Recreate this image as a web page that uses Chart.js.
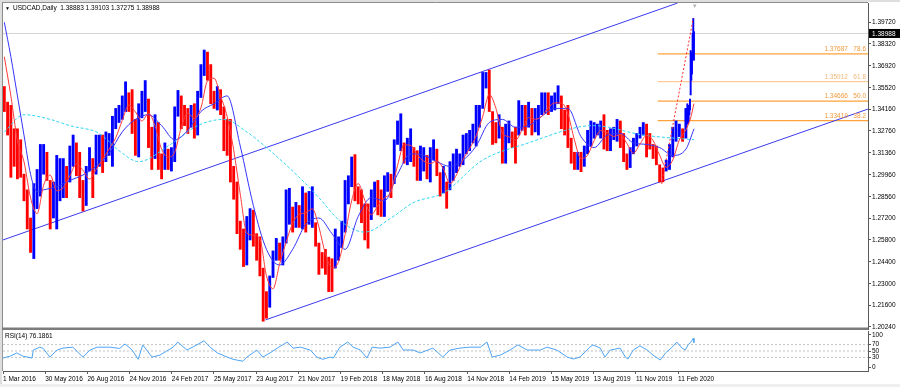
<!DOCTYPE html>
<html>
<head>
<meta charset="utf-8">
<script src="https://cdn.jsdelivr.net/npm/chart.js@4.4.1/dist/chart.umd.min.js"></script>
<style>
  html, body { margin: 0; padding: 0; background: #fff; }
  #wrap { position: relative; width: 900px; height: 387px; overflow: hidden; background: #fff; }
  canvas { position: absolute; left: 0; }
  #mainChart { top: 0; }
  #rsiChart { top: 330px; }
</style>
</head>
<body>
<div id="wrap">
  <canvas id="mainChart" width="900" height="330"></canvas>
  <canvas id="rsiChart" width="900" height="57"></canvas>
</div>
<script>
const FONT = "'Liberation Sans', Arial, sans-serif";
const BLUE = '#0000ff';
const RED = '#ff0000';

// time axis: one unit = one daily bar, a date label every 64 bars
const dateLabels = ['1 Mar 2016', '30 May 2016', '26 Aug 2016', '24 Nov 2016', '24 Feb 2017', '25 May 2017',
  '23 Aug 2017', '21 Nov 2017', '19 Feb 2018', '18 May 2018', '16 Aug 2018', '14 Nov 2018', '14 Feb 2019',
  '15 May 2019', '13 Aug 2019', '11 Nov 2019', '11 Feb 2020'];
const BARS_PER_LABEL = 64;
const BARS_PER_WEEK = 4.97; // holidays are skipped by the feed
const X_MAX = 1312;

const priceTicks = [1.20240, 1.21600, 1.23000, 1.24400, 1.25800, 1.27200, 1.28560, 1.29960, 1.31360,
  1.32760, 1.34160, 1.35520, 1.36920, 1.38320, 1.39720];
const rsiTicks = [0, 30, 50, 70, 100];
const rsiLevels = [70, 50, 30];

// weekly high / low (week 0 = first week of Mar 2016)
const weekHigh = [
  1.3560, 1.3460, 1.3440, 1.3290, 1.3290, 1.3220, 1.3000, 1.2900, 1.2720, 1.2940,
  1.3030, 1.3190, 1.3190, 1.3140, 1.2960, 1.2950, 1.3120, 1.3100, 1.3100, 1.3050,
  1.3180, 1.3250, 1.3200, 1.3140, 1.2960, 1.3050, 1.3170, 1.3100, 1.3250, 1.3250,
  1.3250, 1.3270, 1.3260, 1.3370, 1.3420, 1.3440, 1.3500, 1.3590, 1.3520, 1.3540,
  1.3350, 1.3450, 1.3530, 1.3598, 1.3480, 1.3300, 1.3380, 1.3330, 1.3130, 1.3200,
  1.3160, 1.3170, 1.3430, 1.3535, 1.3500, 1.3440, 1.3420, 1.3440, 1.3450, 1.3530,
  1.3700, 1.3793, 1.3780, 1.3700, 1.3530, 1.3560, 1.3540, 1.3430, 1.3350, 1.3350,
  1.3050, 1.2950, 1.2700, 1.2650, 1.2730, 1.2780, 1.2770, 1.2620, 1.2600, 1.2400,
  1.2250, 1.2350, 1.2510, 1.2590, 1.2560, 1.2600, 1.2900, 1.2910, 1.2790, 1.2820,
  1.2800, 1.2920, 1.2880, 1.2890, 1.2920, 1.2690, 1.2560, 1.2500, 1.2520, 1.2470,
  1.2460, 1.2650, 1.2600, 1.2700, 1.2960, 1.2990, 1.3110, 1.3125, 1.2920, 1.2900,
  1.2810, 1.2810, 1.2900, 1.2950, 1.2960, 1.2900, 1.2990, 1.3010, 1.3000, 1.3220,
  1.3340, 1.3386, 1.3200, 1.3230, 1.3290, 1.3170, 1.3150, 1.3180, 1.3170, 1.3120,
  1.3170, 1.3220, 1.3160, 1.3010, 1.3050, 1.2950, 1.3080, 1.3130, 1.3160, 1.3130,
  1.3250, 1.3260, 1.3280, 1.3320, 1.3440, 1.3440, 1.3650, 1.3650, 1.3665, 1.3400,
  1.3330, 1.3380, 1.3300, 1.3320, 1.3340, 1.3270, 1.3300, 1.3470, 1.3440, 1.3440,
  1.3460, 1.3420, 1.3420, 1.3440, 1.3520, 1.3520, 1.3520, 1.3500, 1.3520, 1.3565,
  1.3500, 1.3410, 1.3440, 1.3230, 1.3140, 1.3140, 1.3140, 1.3180, 1.3280, 1.3340,
  1.3330, 1.3320, 1.3340, 1.3380, 1.3280, 1.3290, 1.3300, 1.3350, 1.3340, 1.3260,
  1.3130, 1.3170, 1.3230, 1.3260, 1.3300, 1.3330, 1.3320, 1.3260, 1.3190, 1.3180,
  1.3060, 1.3040, 1.3090, 1.3190, 1.3300, 1.3340, 1.3320, 1.3290, 1.3420
];
const weekLow = [
  1.3400, 1.3250, 1.2980, 1.3050, 1.2970, 1.2980, 1.2830, 1.2650, 1.2500, 1.2461,
  1.2780, 1.2860, 1.3000, 1.2960, 1.2650, 1.2720, 1.2650, 1.2830, 1.2850, 1.2850,
  1.2950, 1.3050, 1.2990, 1.2850, 1.2765, 1.2800, 1.3020, 1.2850, 1.3000, 1.3050,
  1.3010, 1.3080, 1.3120, 1.3050, 1.3290, 1.3330, 1.3350, 1.3400, 1.3400, 1.3260,
  1.3120, 1.3110, 1.3360, 1.3400, 1.3170, 1.3030, 1.3100, 1.3030, 1.2970, 1.3030,
  1.3030, 1.3020, 1.3080, 1.3370, 1.3290, 1.3310, 1.3260, 1.3300, 1.3230, 1.3250,
  1.3490, 1.3630, 1.3600, 1.3450, 1.3420, 1.3410, 1.3380, 1.3150, 1.3120, 1.2950,
  1.2840, 1.2620, 1.2520, 1.2410, 1.2420, 1.2580, 1.2540, 1.2450, 1.2350, 1.2061,
  1.2080, 1.2150, 1.2340, 1.2450, 1.2450, 1.2420, 1.2560, 1.2680, 1.2630, 1.2660,
  1.2660, 1.2650, 1.2630, 1.2680, 1.2660, 1.2540, 1.2360, 1.2400, 1.2360, 1.2250,
  1.2250, 1.2400, 1.2450, 1.2530, 1.2630, 1.2810, 1.2920, 1.2830, 1.2810, 1.2690,
  1.2580, 1.2527, 1.2710, 1.2790, 1.2740, 1.2730, 1.2730, 1.2890, 1.2850, 1.2940,
  1.3190, 1.3150, 1.3070, 1.3060, 1.3080, 1.3050, 1.2960, 1.2960, 1.3020, 1.2970,
  1.2950, 1.3090, 1.2990, 1.2860, 1.2880, 1.2782, 1.2900, 1.2960, 1.3010, 1.3050,
  1.3060, 1.3130, 1.3150, 1.3200, 1.3180, 1.3300, 1.3420, 1.3550, 1.3400, 1.3190,
  1.3200, 1.3230, 1.3070, 1.3070, 1.3200, 1.3170, 1.3070, 1.3250, 1.3280, 1.3250,
  1.3300, 1.3250, 1.3270, 1.3250, 1.3380, 1.3390, 1.3380, 1.3400, 1.3410, 1.3450,
  1.3290, 1.3250, 1.3170, 1.3070, 1.3030, 1.3030, 1.3016, 1.3050, 1.3130, 1.3180,
  1.3230, 1.3250, 1.3230, 1.3160, 1.3150, 1.3150, 1.3220, 1.3210, 1.3170, 1.3080,
  1.3030, 1.3042, 1.3130, 1.3180, 1.3230, 1.3250, 1.3110, 1.3160, 1.3100, 1.3060,
  1.2950, 1.2951, 1.3020, 1.3030, 1.3110, 1.3210, 1.3240, 1.3210, 1.3230
];

// last daily bars, 2 Mar .. 16 Mar 2020
const FIRST_DAY_BAR = 1038;
const dayHigh = [1.3450, 1.3420, 1.3440, 1.3440, 1.3480, 1.3790, 1.3740, 1.3780, 1.3900, 1.3995, 1.39103];
const dayLow = [1.3330, 1.3320, 1.3340, 1.3380, 1.3410, 1.3506, 1.3600, 1.3640, 1.3740, 1.3810, 1.37275];
const dayClose = [1.3380, 1.3390, 1.3410, 1.3425, 1.3440, 1.3700, 1.3700, 1.3745, 1.3880, 1.3890, 1.38988];
const lastOHLC = [1.38883, 1.39103, 1.37275, 1.38988];

// moving averages
const redMA = [ // one value every 2 weeks
  1.375, 1.350, 1.3216, 1.308, 1.285, 1.2748, 1.293, 1.2994, 1.2894, 1.2915,
  1.2989, 1.3065, 1.3025, 1.2969, 1.303, 1.3095, 1.3161, 1.3233, 1.3344, 1.3441,
  1.3398, 1.334, 1.3388, 1.3308, 1.3159, 1.311, 1.314, 1.3299, 1.339, 1.3356,
  1.3424, 1.3596, 1.3613, 1.3499, 1.3368, 1.3155, 1.2873, 1.2625, 1.261, 1.2586,
  1.2351, 1.2268, 1.2425, 1.2566, 1.2686, 1.2744, 1.2753, 1.2779, 1.2663, 1.2491,
  1.2401, 1.2441, 1.2615, 1.2831, 1.294, 1.2834, 1.2741, 1.2799, 1.2849, 1.2888,
  1.3055, 1.3188, 1.3184, 1.3124, 1.3083, 1.3068, 1.3084, 1.3033, 1.2939, 1.2996,
  1.3094, 1.3164, 1.3245, 1.3369, 1.3509, 1.3423, 1.3263, 1.3239, 1.3218, 1.3281,
  1.3361, 1.3351, 1.3369, 1.3425, 1.3455, 1.3455, 1.3385, 1.3218, 1.31, 1.3121,
  1.3215, 1.3278, 1.3264, 1.3241, 1.3254, 1.3196, 1.3134, 1.3193, 1.3248, 1.3215,
  1.312, 1.3044, 1.3091, 1.3218, 1.3283
];
const redTailBar = [1043, 1048];
const redTailVal = [1.336, 1.345];
const blueWeek = [0, 2, 4, 6, 8, 10, 12, 16, 20, 24, 28, 32, 36, 40, 44, 48, 52, 56, 60, 64, 68, 72, 76, 80,
  84, 88, 92, 96, 100, 104, 108, 112, 116, 120, 124, 128, 132, 136, 140, 144, 148, 152, 156, 160, 164, 168,
  172, 176, 180, 184, 188, 192, 196, 200, 204, 208, 210.5];
const blueVal = [1.397, 1.375, 1.350, 1.325, 1.300, 1.289, 1.290, 1.292, 1.296, 1.2995, 1.305, 1.3135, 1.327,
  1.335, 1.338, 1.331, 1.322, 1.328, 1.340, 1.345, 1.350, 1.318, 1.280, 1.252, 1.242, 1.252, 1.268, 1.272,
  1.262, 1.252, 1.273, 1.285, 1.283, 1.300, 1.313, 1.312, 1.308, 1.305, 1.309, 1.318, 1.333, 1.335, 1.330,
  1.331, 1.337, 1.342, 1.342, 1.324, 1.317, 1.325, 1.326, 1.320, 1.319, 1.317, 1.312, 1.316, 1.329];
const cyanWeek = [0, 6, 14, 20, 29, 35, 41, 50, 59, 67, 74, 80, 90, 96, 102, 110, 118, 125, 134, 146, 160,
  175, 180, 195, 210.5];
const cyanVal = [1.327, 1.338, 1.335, 1.331, 1.326, 1.315, 1.308, 1.318, 1.331, 1.335, 1.327, 1.317, 1.298,
  1.285, 1.271, 1.263, 1.272, 1.282, 1.288, 1.309, 1.320, 1.330, 1.331, 1.325, 1.322];

// drawn objects
const upperChanBar = [0, 1023];
const upperChanPrice = [1.2580, 1.4093];
const lowerChanBar = [398, 1312];
const lowerChanPrice = [1.2069, 1.3416];
const swingBar = [999, 1047];
const swingPrice = [1.2938, 1.3995];
const FIB_FROM_BAR = 993;
const fibPrice = [1.37687, 1.35912, 1.34666, 1.33419];
const fibLevel = ['78.6', '61.8', '50.0', '38.2'];
const fibColor = ['#ffa23c', '#ffcc99', '#ffa23c', '#ffa23c'];

// RSI(14)
const rsiBar = [0, 11, 21, 30, 44, 46, 56, 61, 71, 82, 91, 106, 121, 132, 143, 162, 177, 185, 196, 205,
  212, 226, 238, 258, 265, 279, 294, 305, 314, 325, 340, 349, 364, 370, 385, 394, 405, 416, 431, 440,
  451, 466, 476, 485, 496, 501, 511, 523, 531, 542, 552, 560, 572, 587, 599, 607, 622, 633, 652, 667,
  678, 693, 708, 724, 734, 742, 754, 769, 781, 795, 815, 825, 840, 856, 865, 875, 890, 895, 906, 913,
  921, 936, 944, 948, 956, 966, 977, 986, 997, 1005, 1015, 1022, 1030, 1035, 1039, 1044, 1047, 1048];
const rsiVal = [28, 34, 44, 34, 28, 53, 62, 58, 31, 53, 59, 62, 31, 53, 62, 62, 58, 72, 53, 24,
  69, 31, 37, 62, 78, 53, 69, 82, 62, 44, 31, 24, 18, 31, 53, 31, 44, 59, 78, 59,
  62, 53, 31, 24, 31, 28, 62, 78, 62, 53, 28, 62, 59, 62, 78, 53, 53, 44, 59, 31,
  53, 59, 62, 62, 78, 31, 37, 53, 69, 53, 53, 62, 53, 31, 25, 31, 62, 69, 59, 31,
  53, 59, 31, 25, 53, 66, 53, 37, 22, 44, 62, 78, 59, 53, 69, 80, 90, 76];
const rsiLast = '76.1861';

// ---- build datasets
const weekPos = w => w * BARS_PER_WEEK + 2;
const pts = (xs, ys) => xs.map((x, i) => ({ x: x, y: ys[i] }));

const weekMid = weekHigh.map((h, i) => (h + weekLow[i]) / 2);
const weekBars = weekHigh.map((h, i) => ({ x: weekPos(i), y: [weekLow[i], h] }));
const weekColors = weekMid.map((m, i) => (i > 0 && m >= weekMid[i - 1]) ? BLUE : RED);
const dayBars = dayHigh.map((h, i) => ({ x: FIRST_DAY_BAR + i, y: [dayLow[i], h] }));
const dayColors = dayClose.map((c, i) => (i === 0 || c >= dayClose[i - 1]) ? BLUE : RED);

const redPts = redMA.map((v, i) => ({ x: weekPos(i * 2), y: v })).concat(pts(redTailBar, redTailVal));
const bluePts = pts(blueWeek.map(weekPos), blueVal);
const cyanPts = pts(cyanWeek.map(weekPos), cyanVal);

function lineSet(data, color, extra) {
  return Object.assign({ type: 'line', data: data, borderColor: color, borderWidth: 1,
    pointRadius: 0, fill: false, tension: 0 }, extra || {});
}

const mainSets = [
  lineSet(pts(swingBar, swingPrice), '#ff2a2a', { borderDash: [2, 2], order: 1 }),
  lineSet(redPts, '#ff3a3a', { cubicInterpolationMode: 'monotone', order: 2 }),
  lineSet(bluePts, '#3535ff', { cubicInterpolationMode: 'monotone', order: 3 }),
  lineSet(cyanPts, '#2ed6f2', { cubicInterpolationMode: 'monotone', borderDash: [3, 2], order: 4 }),
  { type: 'bar', data: dayBars, backgroundColor: dayColors, barThickness: 1.3, grouped: false, order: 5 },
  { type: 'bar', data: weekBars, backgroundColor: weekColors, barThickness: 2.2, grouped: false, order: 6 },
  lineSet(pts(upperChanBar, upperChanPrice), '#3a3aee', { order: 7 }),
  lineSet(pts(lowerChanBar, lowerChanPrice), '#3a3aee', { order: 7 })
];
fibPrice.forEach((p, i) => {
  mainSets.push(lineSet([{ x: FIB_FROM_BAR, y: p }, { x: X_MAX, y: p }], fibColor[i], { borderWidth: 1.3, order: 8 }));
});
mainSets.push(lineSet([{ x: 0, y: lastOHLC[3] }, { x: X_MAX, y: lastOHLC[3] }], '#d4d4d4', { order: 9 }));

const mainDecor = {
  id: 'mainDecor',
  beforeDraw(chart) {
    const c = chart.ctx;
    c.save();
    c.fillStyle = '#ffffff';
    c.fillRect(0, 0, chart.width, chart.height);
    c.restore();
  },
  afterDatasetsDraw(chart) {
    const c = chart.ctx, ys = chart.scales.y;
    c.save();
    c.font = '6.5px ' + FONT;
    c.textAlign = 'right';
    c.textBaseline = 'bottom';
    fibPrice.forEach((p, i) => {
      c.fillStyle = i === 1 ? '#f5b77a' : '#f39a3c';
      c.fillText(p.toFixed(5) + '   ' + fibLevel[i], chart.chartArea.right - 2, ys.getPixelForValue(p) - 1.5);
    });
    c.restore();
  },
  afterDraw(chart) {
    const c = chart.ctx, a = chart.chartArea, xs = chart.scales.x, ys = chart.scales.y;
    c.save();
    // window frame
    c.fillStyle = '#dedede';
    c.fillRect(0, 0, chart.width, 2);
    c.fillRect(0, 0, 2, chart.height);
    c.strokeStyle = '#8c8c8c';
    c.lineWidth = 1;
    c.beginPath();
    c.moveTo(a.left, 2.5); c.lineTo(a.right, 2.5);
    c.moveTo(2.5, 2); c.lineTo(2.5, a.bottom);
    c.stroke();
    c.fillStyle = '#7c7c7c';
    c.fillRect(2, a.bottom - 1.5, a.right - 2, 2.5);
    // title
    c.fillStyle = '#000';
    c.textBaseline = 'middle';
    c.font = '5px ' + FONT;
    c.fillText('\u25BC', 5, 8.5);
    c.font = '6.5px ' + FONT;
    c.fillText('USDCAD,Daily  ' + lastOHLC.map(v => v.toFixed(5)).join(' '), 13, 8.5);
    // chart shift marker
    c.fillStyle = '#b4b4b4';
    c.font = '6px ' + FONT;
    c.textAlign = 'center';
    c.fillText('\u25BC', xs.getPixelForValue(1049), 6);
    // current price tag
    const py = ys.getPixelForValue(lastOHLC[3]);
    c.fillStyle = '#000';
    c.fillRect(a.right + 1, py - 4.5, chart.width - a.right - 1, 9);
    c.fillStyle = '#fff';
    c.textAlign = 'left';
    c.font = '6.5px ' + FONT;
    c.fillText(lastOHLC[3].toFixed(5), a.right + 4, py + 0.5);
    c.restore();
  }
};

new Chart(document.getElementById('mainChart'), {
  type: 'bar',
  data: { datasets: mainSets },
  options: {
    responsive: false,
    animation: false,
    events: [],
    layout: { padding: { left: 3, top: 3, right: 0, bottom: 1 } },
    plugins: { legend: { display: false }, tooltip: { enabled: false } },
    scales: {
      x: { type: 'linear', min: 0, max: X_MAX, offset: false, display: false },
      y: {
        position: 'right', min: 1.20112, max: 1.40934,
        afterBuildTicks(s) { s.ticks = priceTicks.map(v => ({ value: v })); },
        afterFit(s) { s.width = 32; s.paddingTop = 0; s.paddingBottom = 0; },
        ticks: { callback: v => v.toFixed(5), autoSkip: false, color: '#000', padding: 1,
          font: { family: FONT, size: 6.5 } },
        grid: { drawOnChartArea: false, drawTicks: true, tickLength: 3, color: '#5a5a5a' },
        border: { display: true, color: '#5a5a5a', width: 1 }
      }
    }
  },
  plugins: [mainDecor]
});

// ---- RSI panel
const rsiSets = [
  { data: pts(rsiBar, rsiVal), borderColor: '#4ea4f4', borderWidth: 1, pointRadius: 0, tension: 0, order: 1 }
];
rsiLevels.forEach(v => {
  rsiSets.push({ data: [{ x: 0, y: v }, { x: X_MAX, y: v }], borderColor: '#c4c4c4', borderWidth: 1,
    borderDash: [2, 2], pointRadius: 0, order: 2 });
});

const rsiDecor = {
  id: 'rsiDecor',
  afterDraw(chart) {
    const c = chart.ctx, a = chart.chartArea;
    c.save();
    c.fillStyle = '#dedede';
    c.fillRect(0, 0, 2, chart.height);
    c.fillStyle = '#efefef';
    c.fillRect(0, chart.height - 3, chart.width, 3);
    c.strokeStyle = '#9a9a9a';
    c.lineWidth = 1;
    c.beginPath();
    c.moveTo(2.5, 0); c.lineTo(2.5, a.bottom);
    c.stroke();
    c.fillStyle = '#000';
    c.font = '6.5px ' + FONT;
    c.textBaseline = 'middle';
    c.fillText('RSI(14) ' + rsiLast, 5, 6.5);
    c.restore();
  }
};

new Chart(document.getElementById('rsiChart'), {
  type: 'line',
  data: { datasets: rsiSets },
  options: {
    responsive: false,
    animation: false,
    events: [],
    layout: { padding: { left: 3, top: 1, right: 0, bottom: 3 } },
    plugins: { legend: { display: false }, tooltip: { enabled: false } },
    scales: {
      x: {
        type: 'linear', min: 0, max: X_MAX, position: 'bottom',
        afterBuildTicks(s) { s.ticks = dateLabels.map((_, i) => ({ value: i * BARS_PER_LABEL })); },
        afterFit(s) { s.height = 13; s.paddingLeft = 0; s.paddingRight = 0; },
        ticks: { callback: (v, i) => dateLabels[i], align: 'start', autoSkip: false, maxRotation: 0,
          color: '#000', padding: 1, font: { family: FONT, size: 6.5 } },
        grid: { drawOnChartArea: false, drawTicks: true, tickLength: 3, color: '#5a5a5a' },
        border: { display: true, color: '#5a5a5a', width: 1 }
      },
      y: {
        position: 'right', min: -12.5, max: 112.5,
        afterBuildTicks(s) { s.ticks = rsiTicks.map(v => ({ value: v })); },
        afterFit(s) { s.width = 32; s.paddingTop = 0; s.paddingBottom = 0; },
        ticks: { autoSkip: false, color: '#000', padding: 1, font: { family: FONT, size: 6.5 } },
        grid: { drawOnChartArea: false, drawTicks: true, tickLength: 3, color: '#5a5a5a' },
        border: { display: true, color: '#5a5a5a', width: 1 }
      }
    }
  },
  plugins: [rsiDecor]
});
</script>
</body>
</html>
